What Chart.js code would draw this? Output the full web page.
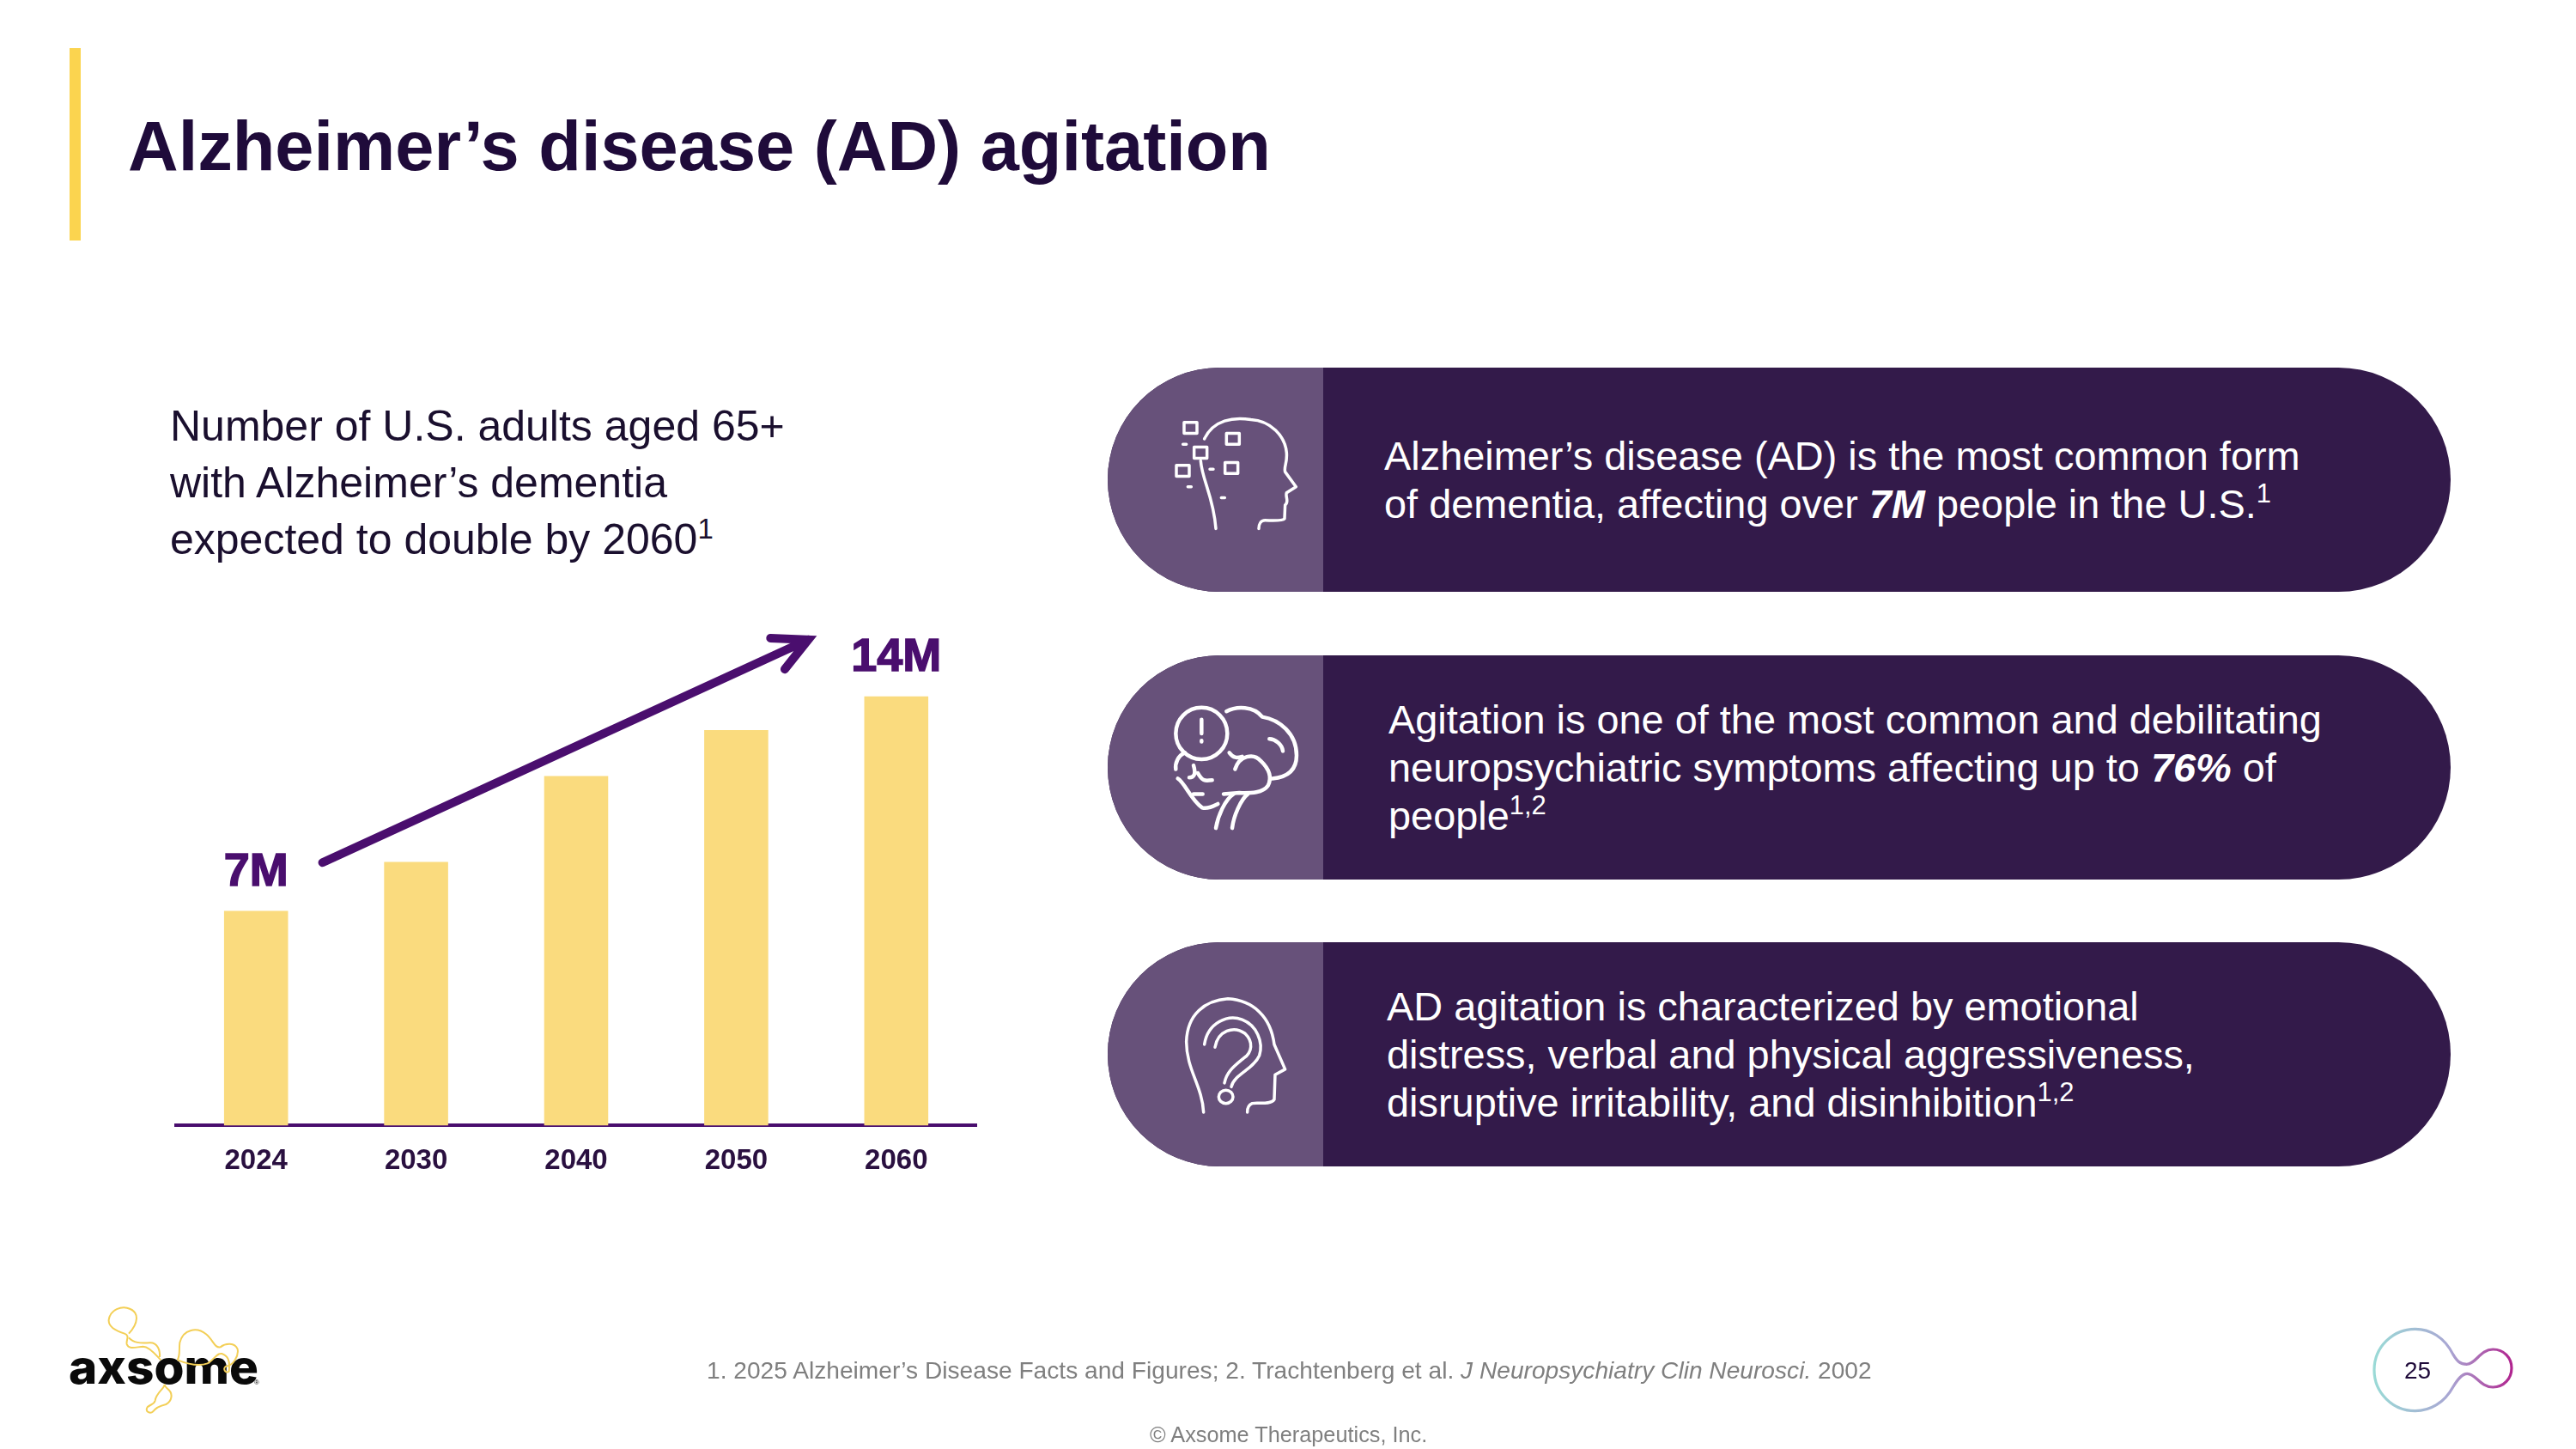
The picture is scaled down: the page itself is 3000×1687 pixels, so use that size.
<!DOCTYPE html>
<html>
<head>
<meta charset="utf-8">
<title>Alzheimer's disease (AD) agitation</title>
<script src="https://cdn.jsdelivr.net/npm/chart.js@4"></script>
<style>
  html, body { margin: 0; padding: 0; background: #fff; }
  body { width: 3000px; height: 1687px; position: relative; overflow: hidden; font-family: "Liberation Sans", Arial, sans-serif; }
  .abs { position: absolute; white-space: nowrap; }
  sup { font-size: 66%; line-height: 0; vertical-align: baseline; position: relative; top: -0.55em; }
  #accent { left: 81px; top: 56px; width: 13px; height: 224px; background: #fbd44f; }
  #title { left: 149px; top: 120px; font-size: 81.2px; font-weight: bold; color: #1f0b3a; line-height: 100px; }
  #subtitle { left: 198px; top: 463px; font-size: 50px; line-height: 66px; color: #1a0f2e; }
  .pill { position: absolute; left: 1290px; width: 1564px; height: 261px; background: #331a4a; border-radius: 130.5px; overflow: hidden; }
  .pill .side { position: absolute; left: 0; top: 0; width: 251px; height: 261px; background: #67517a; }
  .pill .txt { position: absolute; top: 0; height: 261px; display: flex; flex-direction: column; justify-content: center; color: #fff; font-size: 46.9px; line-height: 56px; white-space: nowrap; }
  .pill b { font-style: italic; }
  #chartBox { position: absolute; left: 150px; top: 650px; width: 1050px; height: 750px; }
  #foot { left: 823px; top: 1578px; font-size: 28.15px; line-height: 36px; color: #7f7f7f; }
  #copy { left: 1339px; top: 1655px; font-size: 25.3px; line-height: 30px; color: #7f7f7f; }
  #page { left: 2800px; top: 1578px; font-size: 28px; line-height: 36px; color: #1f0b3a; }
  svg.layer { position: absolute; left: 0; top: 0; width: 3000px; height: 1687px; pointer-events: none; }
  svg.layer .ic { fill: none; stroke: #fff; stroke-width: 3.5px; stroke-linecap: round; stroke-linejoin: round; vector-effect: non-scaling-stroke; }
  svg.layer .ic2 { stroke-width: 4.5px; }
</style>
</head>
<body>

<div class="abs" id="accent"></div>
<div class="abs" id="title">Alzheimer’s disease (AD) agitation</div>
<div class="abs" id="subtitle">Number of U.S. adults aged 65+<br>with Alzheimer’s dementia<br>expected to double by 2060<sup>1</sup></div>

<div id="chartBox"><canvas id="myChart" width="1050" height="750"></canvas></div>

<div class="pill" style="top:428px"><div class="side"></div>
  <div class="txt" style="left:322px">
    <div>Alzheimer’s disease (AD) is the most common form</div>
    <div>of dementia, affecting over <b>7M</b> people in the U.S.<sup>1</sup></div>
  </div>
</div>
<div class="pill" style="top:763px"><div class="side"></div>
  <div class="txt" style="left:327px">
    <div>Agitation is one of the most common and debilitating</div>
    <div>neuropsychiatric symptoms affecting up to <b>76%</b> of</div>
    <div>people<sup>1,2</sup></div>
  </div>
</div>
<div class="pill" style="top:1097px"><div class="side"></div>
  <div class="txt" style="left:325px">
    <div>AD agitation is characterized by emotional</div>
    <div>distress, verbal and physical aggressiveness,</div>
    <div>disruptive irritability, and disinhibition<sup>1,2</sup></div>
  </div>
</div>

<!-- icons, logo and page badge -->
<svg class="layer" viewBox="0 0 3000 1687">
  <defs>
    <linearGradient id="badge" x1="0" x2="1" y1="0" y2="0">
      <stop offset="0" stop-color="#9adad6"/>
      <stop offset="0.55" stop-color="#a9a6d3"/>
      <stop offset="1" stop-color="#b0248f"/>
    </linearGradient>
  </defs>
  <g transform="translate(1280,418) scale(0.3333,0.641)">
    <path class="ic" d="M368 145 C400 110 470 105 530 110 C600 112 650 140 655 170 C658 190 645 195 650 205 L688 232 L655 243 C650 250 665 260 650 265 L648 290 C640 295 600 293 580 293 C565 293 558 300 558 308"/>
    <path class="ic" d="M355 185 C360 220 400 250 408 308"/>
    <rect class="ic" x="297" y="115" width="45" height="20"/>
    <rect class="ic" x="445" y="135" width="45" height="20"/>
    <rect class="ic" x="332" y="160" width="45" height="20"/>
    <rect class="ic" x="440" y="188" width="45" height="20"/>
    <rect class="ic" x="270" y="193" width="45" height="20"/>
    <path class="ic" d="M293 155 L305 155 M387 200 L399 200 M310 232 L322 232 M427 252 L439 252"/>

    <ellipse class="ic ic2" cx="358" cy="680" rx="90" ry="47"/>
    <path class="ic ic2" d="M358 655 L358 680 M358 693 L358 695"/>
    <path class="ic ic2" d="M445 640 C480 630 540 630 570 650 C630 655 690 680 690 720 C690 750 650 760 605 762"/>
    <path class="ic ic2" d="M595 690 C615 690 640 700 642 712"/>
    <path class="ic ic2" d="M475 745 C490 720 540 715 565 730 C595 745 605 760 590 775 C570 790 520 788 490 788 L435 790"/>
    <path class="ic ic2" d="M455 715 C470 725 480 725 500 722"/>
    <path class="ic ic2" d="M300 715 C275 720 265 735 268 745 M275 762 C300 770 320 800 360 815 C380 818 400 812 415 808 M330 790 L362 790"/>
    <path class="ic ic2" d="M330 738 C340 755 330 760 315 760 M345 752 C365 770 375 765 395 765"/>
    <path class="ic ic2" d="M470 790 C440 800 415 830 408 852 M520 790 C495 800 470 830 465 852"/>

    <path class="ic" d="M365 1368 C360 1320 305 1290 305 1240 C308 1190 370 1165 450 1162 C540 1165 600 1195 612 1245 L650 1290 L615 1300 L612 1345 C600 1355 550 1350 535 1352 C520 1355 518 1362 518 1368"/>
    <path class="ic" d="M368 1245 C380 1205 450 1190 500 1200 C550 1210 575 1240 560 1265 C540 1290 470 1300 462 1322"/>
    <path class="ic" d="M405 1250 C415 1220 470 1210 510 1225 C540 1240 535 1260 505 1270 C470 1285 445 1295 438 1315"/>
    <ellipse class="ic" cx="443" cy="1340" rx="25" ry="12"/>
  </g>

  <text x="80" y="1611" font-family="Inter, 'Liberation Sans', sans-serif" font-weight="800" font-size="55" fill="#0a0a0a" textLength="221" lengthAdjust="spacingAndGlyphs">axsome</text>
  <text x="296" y="1612" font-family="Liberation Sans" font-size="8" fill="#0a0a0a">®</text>
  <g transform="translate(50,1500) scale(0.3333)" fill="none" stroke="#f3cf57" stroke-width="6">
    <path d="M300 158 C335 120 335 85 305 72 C275 58 235 75 230 110 C228 135 260 150 285 158 C305 165 290 180 293 195 C300 215 325 205 350 203 C375 203 405 245 412 250"/>
    <path d="M300 172 C320 195 350 190 375 190 C400 190 410 215 408 240"/>
    <path d="M470 250 C490 258 540 275 575 262 C600 250 605 225 625 228 C645 235 655 250 650 290 C640 300 625 280 640 272 C665 270 685 235 680 212 C670 190 640 190 620 205 C600 210 595 180 570 160 C540 135 490 140 478 190 C475 215 480 235 470 250"/>
    <path d="M425 335 C425 350 395 365 392 392 C390 405 375 405 365 415 C355 430 375 440 385 430 C395 415 410 410 430 405 C450 395 455 370 440 355 C430 345 425 345 425 335"/>
  </g>

  <path fill="none" stroke="url(#badge)" stroke-width="3.2" transform="translate(2700,1500) scale(0.3333)" d="M470 230 C440 170 390 142 338 142 C260 142 195 205 195 285 C195 365 260 428 338 428 C390 428 440 400 470 345 C485 320 500 298 520 298 C550 298 565 345 610 345 C648 345 675 315 675 278 C675 242 648 213 610 213 C565 213 550 265 518 265 C495 265 485 255 470 230 Z" vector-effect="non-scaling-stroke"/>
</svg>

<div class="abs" id="foot">1. 2025 Alzheimer’s Disease Facts and Figures; 2. Trachtenberg et al. <i>J Neuropsychiatry Clin Neurosci.</i> 2002</div>
<div class="abs" id="copy">© Axsome Therapeutics, Inc.</div>
<div class="abs" id="page">25</div>

<script>
// chart data, millions of adults
var years = ['2024', '2030', '2040', '2050', '2060'];
var adults = [7, 8.6, 11.4, 12.9, 14];
var barLabels = ['7M', '', '', '', '14M'];

// arrow ends as [category position, value]
var arrowFrom = [0.415, 8.58];
var arrowTo = [3.45, 15.85];

var purple = '#4a0e6e';

// 7M / 14M labels and the trend arrow, placed through the scales
var overlay = {
  id: 'overlay',
  afterDatasetsDraw: function(chart) {
    var ctx = chart.ctx;
    var xs = chart.scales.x;
    var ys = chart.scales.y;

    ctx.save();
    ctx.fillStyle = purple;
    ctx.strokeStyle = purple;
    ctx.font = 'bold 54px "Liberation Sans"';
    ctx.textAlign = 'center';
    ctx.textBaseline = 'alphabetic';
    ctx.lineWidth = 1.5;
    for (let i = 0; i < barLabels.length; i++) {
      if (!barLabels[i]) continue;
      var lx = xs.getPixelForValue(i);
      var ly = ys.getPixelForValue(adults[i]) - 30;
      ctx.fillText(barLabels[i], lx, ly);
      ctx.strokeText(barLabels[i], lx, ly);
    }

    var x0 = xs.getPixelForValue(arrowFrom[0]);
    var y0 = ys.getPixelForValue(arrowFrom[1]);
    var x1 = xs.getPixelForValue(arrowTo[0]);
    var y1 = ys.getPixelForValue(arrowTo[1]);
    var ang = Math.atan2(y1 - y0, x1 - x0);
    var head = 44;
    var spread = 0.47;

    ctx.lineWidth = 10;
    ctx.lineCap = 'round';
    ctx.lineJoin = 'miter';
    ctx.beginPath();
    ctx.moveTo(x0, y0);
    ctx.lineTo(x1, y1);
    ctx.moveTo(x1 - head * Math.cos(ang - spread), y1 - head * Math.sin(ang - spread));
    ctx.lineTo(x1, y1);
    ctx.lineTo(x1 - head * Math.cos(ang + spread), y1 - head * Math.sin(ang + spread));
    ctx.stroke();
    ctx.restore();
  }
};

var ctx = document.getElementById('myChart').getContext('2d');
var chart = new Chart(ctx, {
  type: 'bar',
  data: {
    labels: years,
    datasets: [{
      label: 'U.S. adults aged 65+ with Alzheimer’s dementia (millions)',
      data: adults,
      backgroundColor: '#fadb7e',
      borderWidth: 0,
      categoryPercentage: 1,
      barPercentage: 0.4
    }]
  },
  options: {
    responsive: false,
    devicePixelRatio: 1,
    animation: false,
    layout: { padding: { left: 55, right: 63, top: 18, bottom: 14 } },
    plugins: { legend: { display: false }, tooltip: { enabled: false } },
    scales: {
      x: {
        grid: { display: false },
        border: { display: true, color: purple, width: 4 },
        ticks: { color: '#2a1040', font: { family: 'Liberation Sans', size: 33, weight: 'bold' }, padding: 14, maxRotation: 0 }
      },
      y: { display: false, min: 0, max: 18 }
    }
  },
  plugins: [overlay]
});
</script>
</body>
</html>
